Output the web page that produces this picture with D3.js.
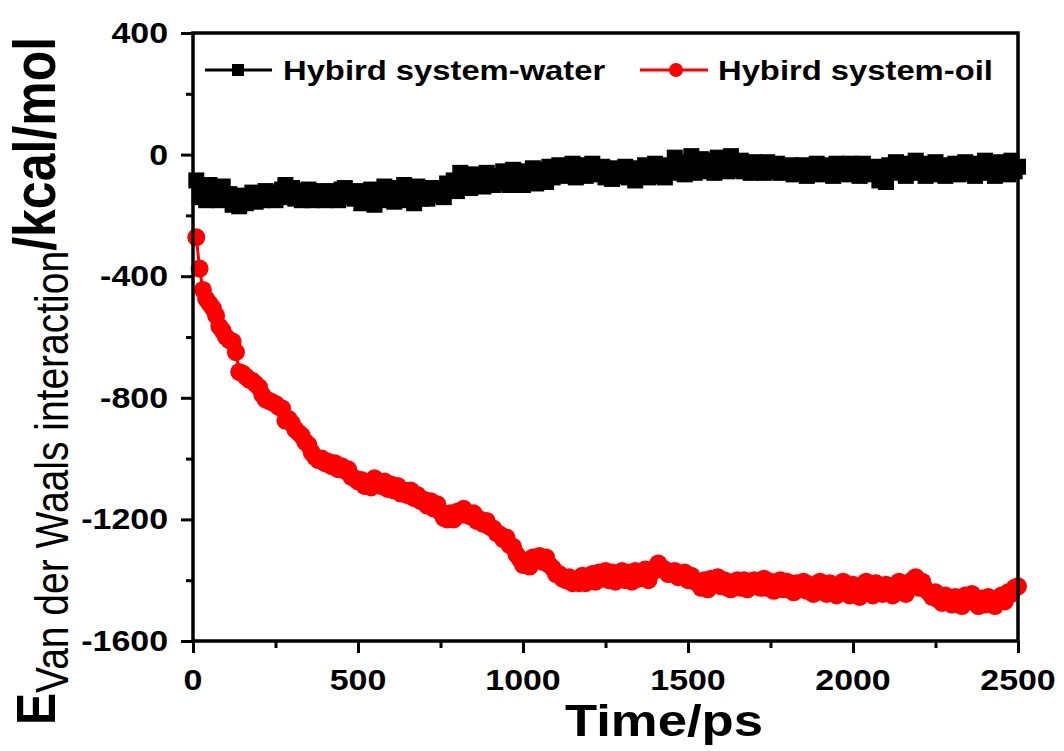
<!DOCTYPE html>
<html>
<head>
<meta charset="utf-8">
<script src="https://cdn.jsdelivr.net/npm/d3@7"></script>
<style>
    body { margin: 0; background: #fff; }
    svg { display: block; font-family: "Liberation Sans", Arial, sans-serif; }
</style>
</head>
<body>
<svg></svg>
<script>

// sampling grid, ps (one frame every 10 ps)
const time = d3.range(10, 2501, 10)

const waterEnergy = [
    -85, -140, -110, -150, -100, -135, -120, -150, -105, -140,
    -130, -165, -145, -170, -135, -160, -140, -125, -155, -130,
    -150, -120, -145, -125, -150, -135, -115, -100, -140, -110,
    -145, -120, -150, -130, -115, -150, -125, -145, -120, -150,
    -130, -145, -120, -150, -115, -110, -140, -125, -145, -120,
    -160, -130, -150, -115, -165, -125, -140, -105, -150, -120,
    -155, -110, -145, -100, -150, -125, -160, -105, -145, -115,
    -145, -110, -135, -120, -110, -140, -95, -115, -85, -120,
    -60, -100, -75, -110, -65, -95, -80, -105, -60, -90,
    -100, -70, -95, -55, -85, -100, -50, -90, -75, -100,
    -55, -85, -45, -95, -70, -50, -90, -40, -75, -60,
    -35, -70, -45, -65, -30, -75, -50, -35, -70, -45,
    -30, -65, -55, -40, -75, -50, -80, -45, -70, -55,
    -40, -75, -50, -85, -45, -70, -35, -75, -50, -30,
    -70, -45, -75, -35, -60, -10, -55, -25, -65, -40,
    -5, -60, -30, -15, -55, -40, -20, -60, -10, -45,
    -25, -55, -5, -50, -35, -20, -55, -30, -60, -25,
    -50, -35, -60, -25, -45, -55, -30, -60, -40, -55,
    -35, -65, -45, -55, -35, -70, -40, -55, -30, -65,
    -45, -60, -35, -70, -30, -55, -40, -65, -30, -60,
    -40, -70, -30, -55, -45, -65, -40, -85, -55, -90,
    -35, -60, -25, -55, -45, -70, -30, -60, -20, -55,
    -40, -70, -30, -55, -25, -65, -45, -70, -35, -55,
    -30, -65, -45, -25, -60, -40, -70, -30, -55, -20,
    -60, -35, -70, -25, -50, -40, -65, -20, -55, -40
]

const oilEnergy = [
    -272, -375, -445, -475, -490, -505, -530, -565, -580, -600,
    -610, -615, -650, -715, -720, -730, -740, -745, -755, -765,
    -790, -805, -810, -815, -820, -830, -835, -875, -870, -885,
    -905, -915, -925, -945, -955, -980, -995, -1005, -1000, -1015,
    -1010, -1025, -1015, -1035, -1025, -1040, -1035, -1060, -1065, -1075,
    -1070, -1090, -1080, -1095, -1065, -1075, -1090, -1075, -1100, -1085,
    -1105, -1090, -1115, -1105, -1120, -1105, -1130, -1120, -1140, -1135,
    -1155, -1140, -1165, -1150, -1175, -1195, -1200, -1180, -1200, -1175,
    -1185, -1165, -1185, -1190, -1180, -1205, -1200, -1215, -1205, -1225,
    -1230, -1245, -1250, -1265, -1260, -1285, -1290, -1315, -1330, -1350,
    -1345, -1355, -1325, -1335, -1320, -1340, -1325, -1350, -1360, -1380,
    -1380, -1395, -1400, -1390, -1410, -1400, -1410, -1385, -1410, -1390,
    -1380, -1405, -1375, -1395, -1370, -1400, -1375, -1405, -1380, -1370,
    -1400, -1375, -1405, -1370, -1395, -1380, -1365, -1400, -1375, -1360,
    -1345, -1365, -1365, -1380, -1375, -1370, -1390, -1385, -1375, -1400,
    -1385, -1405, -1405, -1425, -1400, -1430, -1395, -1415, -1390, -1420,
    -1400, -1425, -1430, -1405, -1400, -1425, -1400, -1430, -1405, -1400,
    -1420, -1425, -1395, -1425, -1405, -1435, -1410, -1400, -1430, -1405,
    -1425, -1440, -1410, -1430, -1405, -1435, -1415, -1445, -1420, -1405,
    -1430, -1445, -1410, -1435, -1450, -1415, -1405, -1430, -1450, -1415,
    -1440, -1455, -1415, -1405, -1435, -1450, -1410, -1430, -1445, -1415,
    -1435, -1450, -1415, -1405, -1430, -1445, -1410, -1400, -1390, -1425,
    -1405, -1430, -1440, -1455, -1440, -1465, -1475, -1450, -1470, -1480,
    -1455, -1475, -1485, -1450, -1470, -1445, -1475, -1485, -1460, -1480,
    -1455, -1475, -1485, -1465, -1450, -1470, -1440, -1445, -1425, -1420
]

const xMajor = [0, 500, 1000, 1500, 2000, 2500]
const xMinor = [250, 750, 1250, 1750, 2250]
const yMajor = [-1600, -1200, -800, -400, 0, 400]
const yMinor = [-1400, -1000, -600, -200, 200]

const seriesNames = ["Hybird system-water", "Hybird system-oil"]

// the source picture is a bit wider than tall, so text is stretched sideways
const SX = 1.17

const svg = d3.select("svg")
    .attr("width", 1064)
    .attr("height", 751)

const x = d3.scaleLinear().domain([0, 2500]).range([193, 1018])
const y = d3.scaleLinear().domain([-1600, 400]).range([641, 33])

const waterData = time.map((t, i) => ({ t: t, v: waterEnergy[i] }))
const oilData = time.map((t, i) => ({ t: t, v: oilEnergy[i] }))

const line = d3.line()
    .x(d => x(d.t))
    .y(d => y(d.v))

const stretchedText = function (parent, px, py, str, size, anchor) {
    return parent.append("text")
        .attr("transform", `translate(${px},${py}) scale(${SX},1)`)
        .attr("text-anchor", anchor)
        .attr("font-size", size)
        .attr("font-weight", "bold")
        .attr("fill", "#000")
        .text(str)
}

// water series
svg.append("path")
    .datum(waterData)
    .attr("d", line)
    .attr("fill", "none")
    .attr("stroke", "#000")
    .attr("stroke-width", 2)

svg.append("g")
    .selectAll("rect")
    .data(waterData)
    .enter()
    .append("rect")
    .attr("x", d => x(d.t) - 8)
    .attr("y", d => y(d.v) - 8)
    .attr("width", 16)
    .attr("height", 16)
    .attr("fill", "#000")

// oil series
svg.append("path")
    .datum(oilData)
    .attr("d", line)
    .attr("fill", "none")
    .attr("stroke", "#ff0000")
    .attr("stroke-width", 3)

svg.append("g")
    .selectAll("circle")
    .data(oilData)
    .enter()
    .append("circle")
    .attr("cx", d => x(d.t))
    .attr("cy", d => y(d.v))
    .attr("r", 9)
    .attr("fill", "#ff0000")

// axes, ticks only; the frame is drawn as a rect
const styleAxis = function (g) {
    g.select(".domain").remove()
    g.selectAll("line").attr("stroke", "#000").attr("stroke-width", 3)
}

svg.append("g")
    .attr("transform", "translate(0,641)")
    .call(d3.axisBottom(x).tickValues(xMajor).tickSize(12).tickFormat(""))
    .call(styleAxis)

svg.append("g")
    .attr("transform", "translate(0,641)")
    .call(d3.axisBottom(x).tickValues(xMinor).tickSize(7).tickFormat(""))
    .call(styleAxis)

svg.append("g")
    .attr("transform", "translate(193,0)")
    .call(d3.axisLeft(y).tickValues(yMajor).tickSize(12).tickFormat(""))
    .call(styleAxis)

svg.append("g")
    .attr("transform", "translate(193,0)")
    .call(d3.axisLeft(y).tickValues(yMinor).tickSize(7).tickFormat(""))
    .call(styleAxis)

svg.append("rect")
    .attr("x", x(0))
    .attr("y", y(400))
    .attr("width", x(2500) - x(0))
    .attr("height", y(-1600) - y(400))
    .attr("fill", "none")
    .attr("stroke", "#000")
    .attr("stroke-width", 3.5)

// tick labels
xMajor.forEach(v => stretchedText(svg, x(v), 690, v, 29, "middle"))
yMajor.forEach(v => stretchedText(svg, 168, y(v) + 10, v, 29, "end"))

// axis titles
stretchedText(svg, 664, 736, "Time/ps", 45, "middle")

const yTitle = svg.append("text")
    .attr("transform", `translate(55,725) scale(${SX},1) rotate(-90)`)
    .attr("fill", "#000")

yTitle.append("tspan")
    .attr("font-size", 48)
    .attr("font-weight", "bold")
    .text("E")

yTitle.append("tspan")
    .attr("font-size", 39)
    .attr("dy", 11)
    .text("Van der Waals interaction")

yTitle.append("tspan")
    .attr("font-size", 50)
    .attr("font-weight", "bold")
    .attr("dy", -11)
    .text("/kcal/mol")

// legend
const legend = svg.append("g")

legend.append("line")
    .attr("x1", 205).attr("x2", 272)
    .attr("y1", 70).attr("y2", 70)
    .attr("stroke", "#000")
    .attr("stroke-width", 3)

legend.append("rect")
    .attr("x", 232).attr("y", 64)
    .attr("width", 12).attr("height", 12)
    .attr("fill", "#000")

stretchedText(legend, 283, 80, seriesNames[0], 28, "start")

legend.append("line")
    .attr("x1", 640).attr("x2", 708)
    .attr("y1", 70).attr("y2", 70)
    .attr("stroke", "#ff0000")
    .attr("stroke-width", 3)

legend.append("circle")
    .attr("cx", 676).attr("cy", 70)
    .attr("r", 7)
    .attr("fill", "#ff0000")

stretchedText(legend, 718, 80, seriesNames[1], 28, "start")

</script>
</body>
</html>
